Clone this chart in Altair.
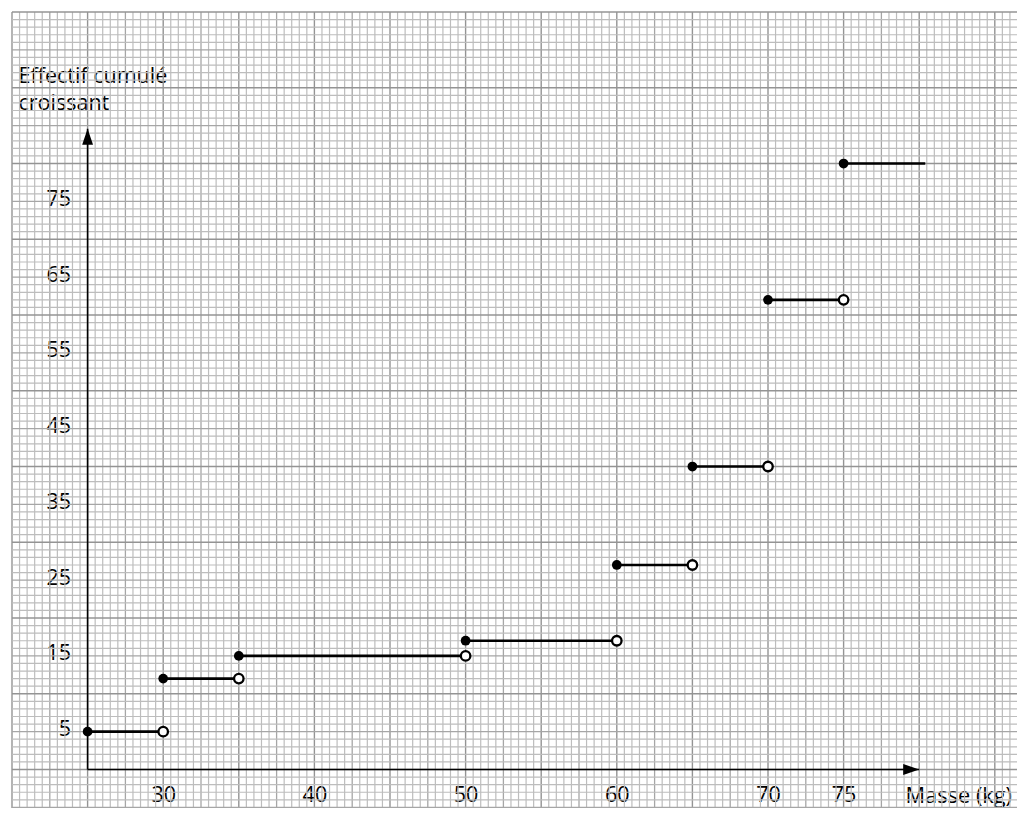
import altair as alt
import numpy as np
import pandas as pd

# ---- chart values -------------------------------------------------------
step_start = [25, 30, 35, 50, 60, 65, 70, 75]
step_end = [30, 35, 50, 60, 65, 70, 75, 80.4]
step_level = [5, 12, 15, 17, 27, 40, 62, 80]
end_is_open = [True, True, True, True, True, True, True, False]

x_tick_labels = [30, 40, 50, 60, 70, 75]
y_tick_labels = [5, 15, 25, 35, 45, 55, 65, 75]

x_title = "Masse (kg)"
y_title = ["Effectif cumulé", "croissant"]

x_axis_start, x_axis_end = [25], [80]
y_axis_start, y_axis_end = [0], [84.6]

# ---- layout / style ------------------------------------------------------
W, H = 1005, 796
X_DOMAIN = [20, 86.468]
Y_DOMAIN = [-5.08, 100]
FONT = "Open Sans"
LFS = 21.5

xs = alt.Scale(domain=X_DOMAIN, nice=False, zero=False)
ys = alt.Scale(domain=Y_DOMAIN, nice=False, zero=False)

xaxis = alt.Axis(values=x_tick_labels, domain=False, ticks=False, tickSize=0,
                 grid=False, offset=-38.5, labelPadding=15, labelFont=FONT,
                 labelFontSize=LFS, labelColor="#000000", labelOverlap=False,
                 labelFlush=False, title=x_title, titleFont=FONT,
                 titleFontSize=21.8, titleFontWeight="normal", titleColor="#000000",
                 titleAlign="left", titleBaseline="alphabetic",
                 titleX=893, titleY=33)
yaxis = alt.Axis(values=y_tick_labels, domain=False, ticks=False, tickSize=0,
                 grid=False, offset=-75.6, labelPadding=17, labelFont=FONT,
                 labelFontSize=LFS, labelColor="#000000", labelOverlap=False,
                 labelFlush=False, labelOffset=-2, title=y_title, titleFont=FONT,
                 titleFontSize=21.5, titleFontWeight="normal", titleColor="#000000",
                 titleAngle=0, titleAlign="left", titleBaseline="alphabetic",
                 titleX=-69.6, titleY=70, titleLineHeight=27)


def X(field):
    return alt.X(field, type="quantitative", scale=xs, axis=xaxis)


def Y(field):
    return alt.Y(field, type="quantitative", scale=ys, axis=yaxis)


# ---- graph-paper grid (styling) ----------------------------------------
def kind_of(v, major, medium):
    if abs(v / major - round(v / major)) < 1e-6:
        return "major"
    if abs(v / medium - round(v / medium)) < 1e-6:
        return "medium"
    return "minor"


order = {"minor": 0, "medium": 1, "major": 2}
gx = np.arange(20, 86.46, 0.5)
gy = np.arange(-5, 100.5, 1.0)
gx_df = pd.DataFrame({"gx": gx, "kind": [kind_of(v, 5, 2.5) for v in gx]})
gy_df = pd.DataFrame({"gy": gy, "kind": [kind_of(v, 10, 5) for v in gy]})
gx_df = gx_df.assign(o=gx_df.kind.map(order)).sort_values("o")
gy_df = gy_df.assign(o=gy_df.kind.map(order)).sort_values("o")

gcol = alt.Scale(domain=["minor", "medium", "major"],
                 range=["#bdbdbd", "#a6a6a6", "#949494"])
gwid = alt.Scale(domain=["minor", "medium", "major"], range=[1.2, 1.4, 1.9])

grid_v = alt.Chart(gx_df).mark_rule().encode(
    x=X("gx"),
    color=alt.Color("kind:N", scale=gcol, legend=None),
    strokeWidth=alt.StrokeWidth("kind:N", scale=gwid, legend=None),
)
grid_h = alt.Chart(gy_df).mark_rule().encode(
    y=Y("gy"),
    color=alt.Color("kind:N", scale=gcol, legend=None),
    strokeWidth=alt.StrokeWidth("kind:N", scale=gwid, legend=None),
)

# ---- axes lines with arrows ---------------------------------------------
axes_df = pd.DataFrame({"x0": x_axis_start, "x1": x_axis_end,
                        "y0": y_axis_start, "y1": y_axis_end})
x_line = alt.Chart(axes_df).mark_rule(color="#000000", strokeWidth=1.6).encode(
    x=X("x0"), x2="x1", y=Y("y0"))
y_line = alt.Chart(axes_df).mark_rule(color="#000000", strokeWidth=1.6).encode(
    x=X("x0"), y=Y("y0"), y2="y1")
x_arrow = alt.Chart(axes_df).mark_point(
    shape="M0,0L-2,-0.68L-2,0.68Z", size=256, filled=True, color="#000000",
    opacity=1, strokeWidth=0).encode(x=X("x1"), y=Y("y0"))
y_arrow = alt.Chart(axes_df).mark_point(
    shape="M0,0L-0.68,2L0.68,2Z", size=256, filled=True, color="#000000",
    opacity=1, strokeWidth=0).encode(x=X("x0"), y=Y("y1"))

# ---- step function -------------------------------------------------------
steps = pd.DataFrame({"start": step_start, "end": step_end,
                      "level": step_level, "open": end_is_open})
seg = alt.Chart(steps).mark_rule(color="#000000", strokeWidth=2.6).encode(
    x=X("start"), x2="end", y=Y("level"))
filled = alt.Chart(steps).mark_point(
    shape="circle", size=95, filled=True, color="#000000", opacity=1,
    strokeWidth=0).encode(x=X("start"), y=Y("level"))
opened = alt.Chart(steps).transform_filter("datum.open").mark_point(
    shape="circle", size=90, filled=True, fill="#ffffff", stroke="#000000",
    strokeWidth=2.3, opacity=1).encode(x=X("end"), y=Y("level"))

chart = alt.layer(
    grid_v, grid_h, x_line, y_line, x_arrow, y_arrow, seg, filled, opened
).properties(
    width=W, height=H, autosize="none",
    padding={"left": 4, "top": 4, "right": 0, "bottom": 0},
    background="#ffffff",
).configure_view(stroke=None)

chart.save("out.html", embed_options={"renderer": "svg", "actions": False})
